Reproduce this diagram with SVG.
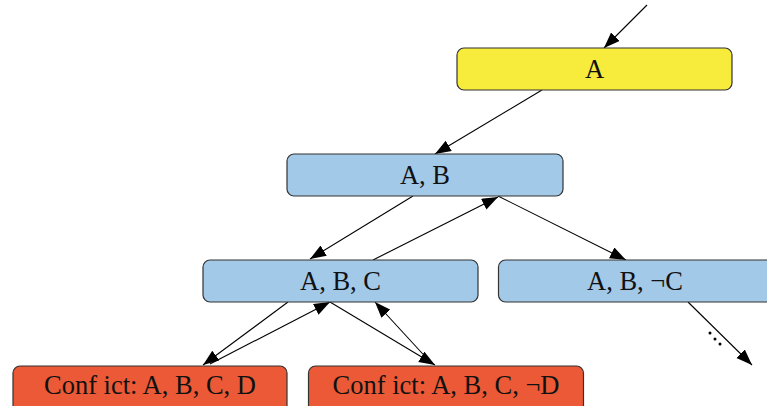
<svg xmlns="http://www.w3.org/2000/svg" width="767" height="406" viewBox="0 0 767 406">
<style>
.box{stroke:#333;stroke-width:1.2}
.y{fill:#f7ec3c}
.b{fill:#a3c9e9}
.r{fill:#eb5936}
.t{font-family:"Liberation Serif","Times New Roman",serif;font-size:26.5px;fill:#111;text-anchor:middle}
.e{stroke:#000;stroke-width:1.1;fill:none;marker-end:url(#ah)}
</style>
<defs>
<marker id="ah" markerUnits="userSpaceOnUse" markerWidth="17" markerHeight="13" refX="16" refY="6" orient="auto">
<path d="M0,0 L16,6 L0,12 z" fill="#000"/>
</marker>
</defs>
<rect width="767" height="406" fill="#fff"/>
<g id="connectors">
<line class="e" x1="647" y1="5" x2="604" y2="48"/>
<line class="e" x1="542" y1="90" x2="435" y2="154"/>
<line class="e" x1="413" y1="196" x2="310" y2="259"/>
<line class="e" x1="373" y1="260" x2="498" y2="197"/>
<line class="e" x1="498" y1="196" x2="626" y2="260"/>
<line class="e" x1="288" y1="302" x2="203" y2="365"/>
<line class="e" x1="210" y1="364" x2="330" y2="302"/>
<line class="e" x1="330" y1="302" x2="435" y2="365"/>
<line class="e" x1="432" y1="364" x2="375" y2="302"/>
<line class="e" x1="688" y1="302" x2="752" y2="365"/>
<g fill="#000">
<circle cx="710" cy="333" r="1.5"/>
<circle cx="715" cy="339" r="1.5"/>
<circle cx="720" cy="344" r="1.5"/>
</g>
</g>
<g id="nA"><rect class="box y" x="457" y="48" width="275" height="42" rx="7"/><text class="t" x="594.5" y="77.5">A</text></g>
<g id="nAB"><rect class="box b" x="287" y="154" width="276" height="42" rx="7"/><text class="t" x="425" y="183.5">A, B</text></g>
<g id="nABC"><rect class="box b" x="203" y="260" width="275" height="42" rx="7"/><text class="t" x="340.5" y="289.5">A, B, C</text></g>
<g id="nABnC"><rect class="box b" x="498.5" y="260" width="275" height="42" rx="7"/><text class="t" x="635" y="289.5">A, B, ¬C</text></g>
<g id="nConf1"><rect class="box r" x="13" y="366" width="274" height="50" rx="7"/><text class="t" x="150" y="393.5">Conf ict: A, B, C, D</text></g>
<g id="nConf2"><rect class="box r" x="308.5" y="366" width="275" height="50" rx="7"/><text class="t" x="446" y="393.5">Conf ict: A, B, C, ¬D</text></g>
</svg>
